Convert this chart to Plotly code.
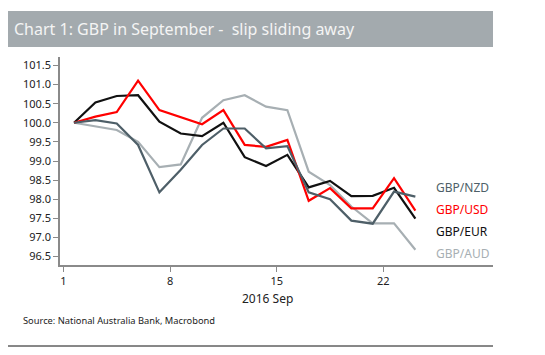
import plotly.graph_objects as go

# Business days of September 2016 (1..23)
dates = [1, 2, 5, 6, 7, 8, 9, 12, 13, 14, 15, 16, 19, 20, 21, 22, 23]
gbp_nzd = [100.0, 100.07, 99.98, 99.42, 98.18, 98.77, 99.42, 99.85, 99.85, 99.33, 99.39,
           98.18, 98.00, 97.44, 97.36, 98.20, 98.07]
gbp_usd = [100.0, 100.16, 100.28, 101.10, 100.33, 100.15, 99.96, 100.33, 99.42, 99.37, 99.55,
           97.96, 98.29, 97.76, 97.76, 98.55, 97.70]
gbp_eur = [100.0, 100.53, 100.70, 100.72, 100.03, 99.72, 99.65, 100.0, 99.10, 98.87, 99.16,
           98.31, 98.48, 98.08, 98.09, 98.30, 97.49]
gbp_aud = [100.0, 99.90, 99.81, 99.50, 98.84, 98.91, 100.13, 100.59, 100.72, 100.42, 100.33,
           98.72, 98.37, 97.81, 97.37, 97.37, 96.68]
tick_labels = ["1", "8", "15", "22"]
y_ticks = [96.5, 97.0, 97.5, 98.0, 98.5, 99.0, 99.5, 100.0, 100.5, 101.0, 101.5]

series = [
    ("GBP/NZD", gbp_nzd, "#4e5f68"),
    ("GBP/USD", gbp_usd, "#ff0000"),
    ("GBP/EUR", gbp_eur, "#111111"),
    ("GBP/AUD", gbp_aud, "#a7afb3"),
]

# business-day index, points plotted at mid-day
xpos = [i + 0.5 for i in range(len(dates))]

fig = go.Figure()
for name, vals, col in series[::-1]:
    fig.add_trace(go.Scatter(x=xpos, y=vals, mode="lines", name=name,
                             line=dict(color=col, width=2.2)))

# page body has an 8px default margin: compensate
OFF = 8
W, H = 545 - OFF, 355 - OFF
L, R, T, B = 60 - OFF, 52, 57 - OFF, 90
pw, ph = W - L - R, H - T - B


def px(x):  # reference pixel -> paper
    return (x - OFF - L) / pw


def py(y):
    return (H - B - (y - OFF)) / ph


fig.update_layout(
    width=W, height=H,
    margin=dict(l=L, r=R, t=T, b=B),
    paper_bgcolor="white", plot_bgcolor="white",
    showlegend=False,
    font=dict(family="Noto Sans", color="#333333"),
    xaxis=dict(range=[-0.16, 20.14], tickvals=[0, 5, 10, 15], ticktext=tick_labels,
               showgrid=False, zeroline=False, showline=True, linecolor="#8a8a8a",
               linewidth=1.5, ticks="outside", ticklen=5, tickcolor="#8a8a8a",
               tickfont=dict(size=11, color="#222222")),
    yaxis=dict(range=[96.28, 101.72], tickvals=y_ticks, tickformat=".1f",
               showgrid=False, zeroline=False, showline=True, linecolor="#8a8a8a",
               linewidth=1.5, ticks="outside", ticklen=5, tickcolor="#8a8a8a",
               tickfont=dict(size=11, color="#222222")),
)

# title banner
fig.add_shape(type="rect", xref="paper", yref="paper",
              x0=px(8), x1=px(493), y0=py(47), y1=py(11),
              fillcolor="#a3aaae", line=dict(width=0), layer="below")
fig.add_annotation(xref="paper", yref="paper", x=px(12), y=py(29),
                   xanchor="left", yanchor="middle", showarrow=False,
                   text="Chart 1: GBP in September -  slip sliding away",
                   font=dict(size=16, color="#f4f4f4", family="Noto Sans"))
# bottom rule
fig.add_shape(type="line", xref="paper", yref="paper",
              x0=px(8), x1=px(493), y0=py(346), y1=py(346),
              line=dict(color="#111111", width=1))
# axis title
fig.add_annotation(xref="paper", yref="paper", x=px(267), y=py(298),
                   xanchor="center", yanchor="middle", showarrow=False,
                   text="2016 Sep", font=dict(size=12, color="#222222"))
# source
fig.add_annotation(xref="paper", yref="paper", x=px(21), y=py(320),
                   xanchor="left", yanchor="middle", showarrow=False,
                   text="Source: National Australia Bank, Macrobond",
                   font=dict(size=9.3, color="#222222"))
# line labels
label_y = [187, 209, 231, 253]
for (name, vals, col), ly in zip(series, label_y):
    fig.add_annotation(xref="paper", yref="paper", x=px(434), y=py(ly),
                       xanchor="left", yanchor="middle", showarrow=False,
                       text=name, font=dict(size=12, color=col))

fig.write_html("out.html")
